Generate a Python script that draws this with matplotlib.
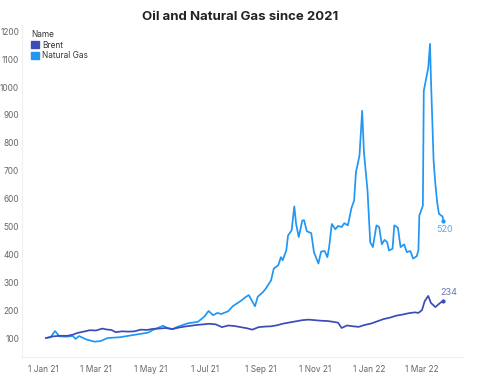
import matplotlib
matplotlib.use("Agg")
import matplotlib.pyplot as plt
import matplotlib.patches as mpatches
import pandas as pd

plt.rcParams['font.family'] = ['Inter', 'DejaVu Sans']

title = "Oil and Natural Gas since 2021"
series_names = ["Brent", "Natural Gas"]

gas_dates = ["2021-01-04", "2021-01-09", "2021-01-14", "2021-01-19", "2021-01-26", "2021-02-03",
             "2021-02-06", "2021-02-10", "2021-02-18", "2021-02-27", "2021-03-06", "2021-03-14",
             "2021-03-28", "2021-04-12", "2021-04-28", "2021-05-03", "2021-05-15", "2021-05-20",
             "2021-05-26", "2021-05-31", "2021-06-12", "2021-06-23", "2021-06-30", "2021-07-05",
             "2021-07-10", "2021-07-15", "2021-07-19", "2021-07-27", "2021-08-01", "2021-08-10",
             "2021-08-16", "2021-08-19", "2021-08-24", "2021-08-26", "2021-08-29", "2021-09-04",
             "2021-09-07", "2021-09-13", "2021-09-16", "2021-09-21", "2021-09-24", "2021-09-26",
             "2021-09-30", "2021-10-02", "2021-10-06", "2021-10-09", "2021-10-11", "2021-10-14",
             "2021-10-18", "2021-10-20", "2021-10-23", "2021-10-28", "2021-10-31", "2021-11-05",
             "2021-11-08", "2021-11-12", "2021-11-15", "2021-11-17", "2021-11-20", "2021-11-24",
             "2021-11-27", "2021-12-01", "2021-12-04", "2021-12-08", "2021-12-12", "2021-12-15",
             "2021-12-17", "2021-12-21", "2021-12-24", "2021-12-26", "2021-12-30", "2022-01-02",
             "2022-01-05", "2022-01-09", "2022-01-12", "2022-01-15", "2022-01-18", "2022-01-21",
             "2022-01-23", "2022-01-27", "2022-01-29", "2022-02-02", "2022-02-05", "2022-02-09",
             "2022-02-12", "2022-02-16", "2022-02-19", "2022-02-23", "2022-02-25", "2022-02-26",
             "2022-03-02", "2022-03-03", "2022-03-08", "2022-03-10", "2022-03-11", "2022-03-14",
             "2022-03-16", "2022-03-18", "2022-03-20", "2022-03-24", "2022-03-25"]
gas_values = [100, 103, 125, 106, 105, 107,
              97, 107, 95, 87, 89, 100,
              103, 111, 119, 128, 144, 136,
              132, 140, 153, 158, 176, 197,
              182, 190, 186, 196, 214, 233,
              248, 254, 225, 214, 248, 265,
              277, 307, 349, 361, 390, 379,
              414, 468, 486, 572, 509, 462,
              522, 522, 483, 476, 408, 367,
              410, 412, 390, 426, 509, 490,
              502, 498, 512, 504, 566, 593,
              694, 754, 915, 765, 629, 444,
              426, 504, 498, 436, 452, 444,
              414, 420, 504, 496, 426, 436,
              408, 412, 385, 393, 414, 539,
              575, 986, 1069, 1155, 1033, 736,
              652, 587, 545, 536, 520]

brent_dates = ["2021-01-04", "2021-01-12", "2021-01-20", "2021-01-28", "2021-02-03", "2021-02-08",
               "2021-02-15", "2021-02-22", "2021-03-01", "2021-03-08", "2021-03-12", "2021-03-18",
               "2021-03-23", "2021-03-30", "2021-04-06", "2021-04-13", "2021-04-20", "2021-04-27",
               "2021-05-04", "2021-05-11", "2021-05-18", "2021-05-25", "2021-06-01", "2021-06-08",
               "2021-06-15", "2021-06-22", "2021-06-29", "2021-07-06", "2021-07-13", "2021-07-20",
               "2021-07-27", "2021-08-03", "2021-08-10", "2021-08-17", "2021-08-23", "2021-08-30",
               "2021-09-06", "2021-09-13", "2021-09-20", "2021-09-27", "2021-10-04", "2021-10-11",
               "2021-10-18", "2021-10-25", "2021-11-01", "2021-11-08", "2021-11-15", "2021-11-22",
               "2021-11-27", "2021-12-01", "2021-12-07", "2021-12-14", "2021-12-20", "2021-12-27",
               "2022-01-03", "2022-01-10", "2022-01-17", "2022-01-24", "2022-01-31", "2022-02-07",
               "2022-02-14", "2022-02-21", "2022-02-25", "2022-03-01", "2022-03-04", "2022-03-08",
               "2022-03-11", "2022-03-16", "2022-03-21", "2022-03-25"]
brent_values = [100, 106, 108, 108, 112, 118,
                123, 128, 127, 134, 131, 129,
                121, 124, 123, 124, 130, 129,
                133, 134, 136, 132, 137, 141,
                144, 147, 149, 151, 149, 139,
                145, 143, 139, 135, 130, 139,
                141, 142, 146, 152, 156, 160,
                164, 166, 164, 162, 161, 158,
                155, 136, 145, 142, 140, 147,
                152, 160, 168, 173, 180, 184,
                189, 192, 190, 200, 232, 251,
                226, 211, 225, 234]

y_ticks = [100, 200, 300, 400, 500, 600, 700, 800, 900, 1000, 1100, 1200]
x_ticks = ["2021-01-01", "2021-03-01", "2021-05-01", "2021-07-01", "2021-09-01",
           "2021-11-01", "2022-01-01", "2022-03-01"]
x_tick_labels = ["1 Jan 21", "1 Mar 21", "1 May 21", "1 Jul 21", "1 Sep 21",
                 "1 Nov 21", "1 Jan 22", "1 Mar 22"]

brent_color = "#3b4bb8"
gas_color = "#2196f3"

fig = plt.figure(figsize=(4.81, 3.74), dpi=100)
ax = fig.add_axes([0.0457, 0.0455, 0.917, 0.888])

gd = pd.to_datetime(gas_dates)
bd = pd.to_datetime(brent_dates)
ax.plot(gd, gas_values, color=gas_color, lw=1.25, solid_joinstyle='round')
ax.plot(bd, brent_values, color=brent_color, lw=1.25, solid_joinstyle='round')
ax.plot(gd[-1:], gas_values[-1:], 'o', color=gas_color, ms=2)
ax.plot(bd[-1:], brent_values[-1:], 'o', color=brent_color, ms=2)

ax.annotate(str(gas_values[-1]), (gd[-1], gas_values[-1]), xytext=(-5, -8),
            textcoords='offset points', color="#5aa9ee", fontsize=6.5)
ax.annotate(str(brent_values[-1]), (bd[-1], brent_values[-1]), xytext=(-2, 4),
            textcoords='offset points', color="#6a74c4", fontsize=6.5)

ax.set_xlim(pd.Timestamp("2020-12-08"), pd.Timestamp("2022-04-16"))
ax.set_ylim(32, 1223)
ax.set_yticks(y_ticks)
ax.set_xticks(pd.to_datetime(x_ticks))
ax.set_xticklabels(x_tick_labels)
ax.tick_params(axis='both', length=0, labelsize=6, labelcolor="#666666")
ax.tick_params(axis='y', pad=2)
ax.tick_params(axis='x', pad=6)
for s in ['top', 'right']:
    ax.spines[s].set_visible(False)
for s in ['left', 'bottom']:
    ax.spines[s].set_color("#f0f0f0")
    ax.spines[s].set_linewidth(0.8)

handles = [mpatches.Patch(color=brent_color, label=series_names[0]),
           mpatches.Patch(color=gas_color, label=series_names[1])]
leg = ax.legend(handles=handles, title="Name", loc='upper left', bbox_to_anchor=(0.01, 1.0),
                frameon=False, fontsize=6, title_fontsize=6, handlelength=0.9, handleheight=0.9,
                handletextpad=0.4, labelspacing=0.2, borderaxespad=0.2)
leg._legend_box.align = "left"
for t in leg.get_texts():
    t.set_color("#333333")
leg.get_title().set_color("#333333")

fig.text(0.5, 0.955, title, ha='center', va='center', fontsize=9.5, fontweight='bold', color="#222222")

fig.savefig("out.png", dpi=100)
